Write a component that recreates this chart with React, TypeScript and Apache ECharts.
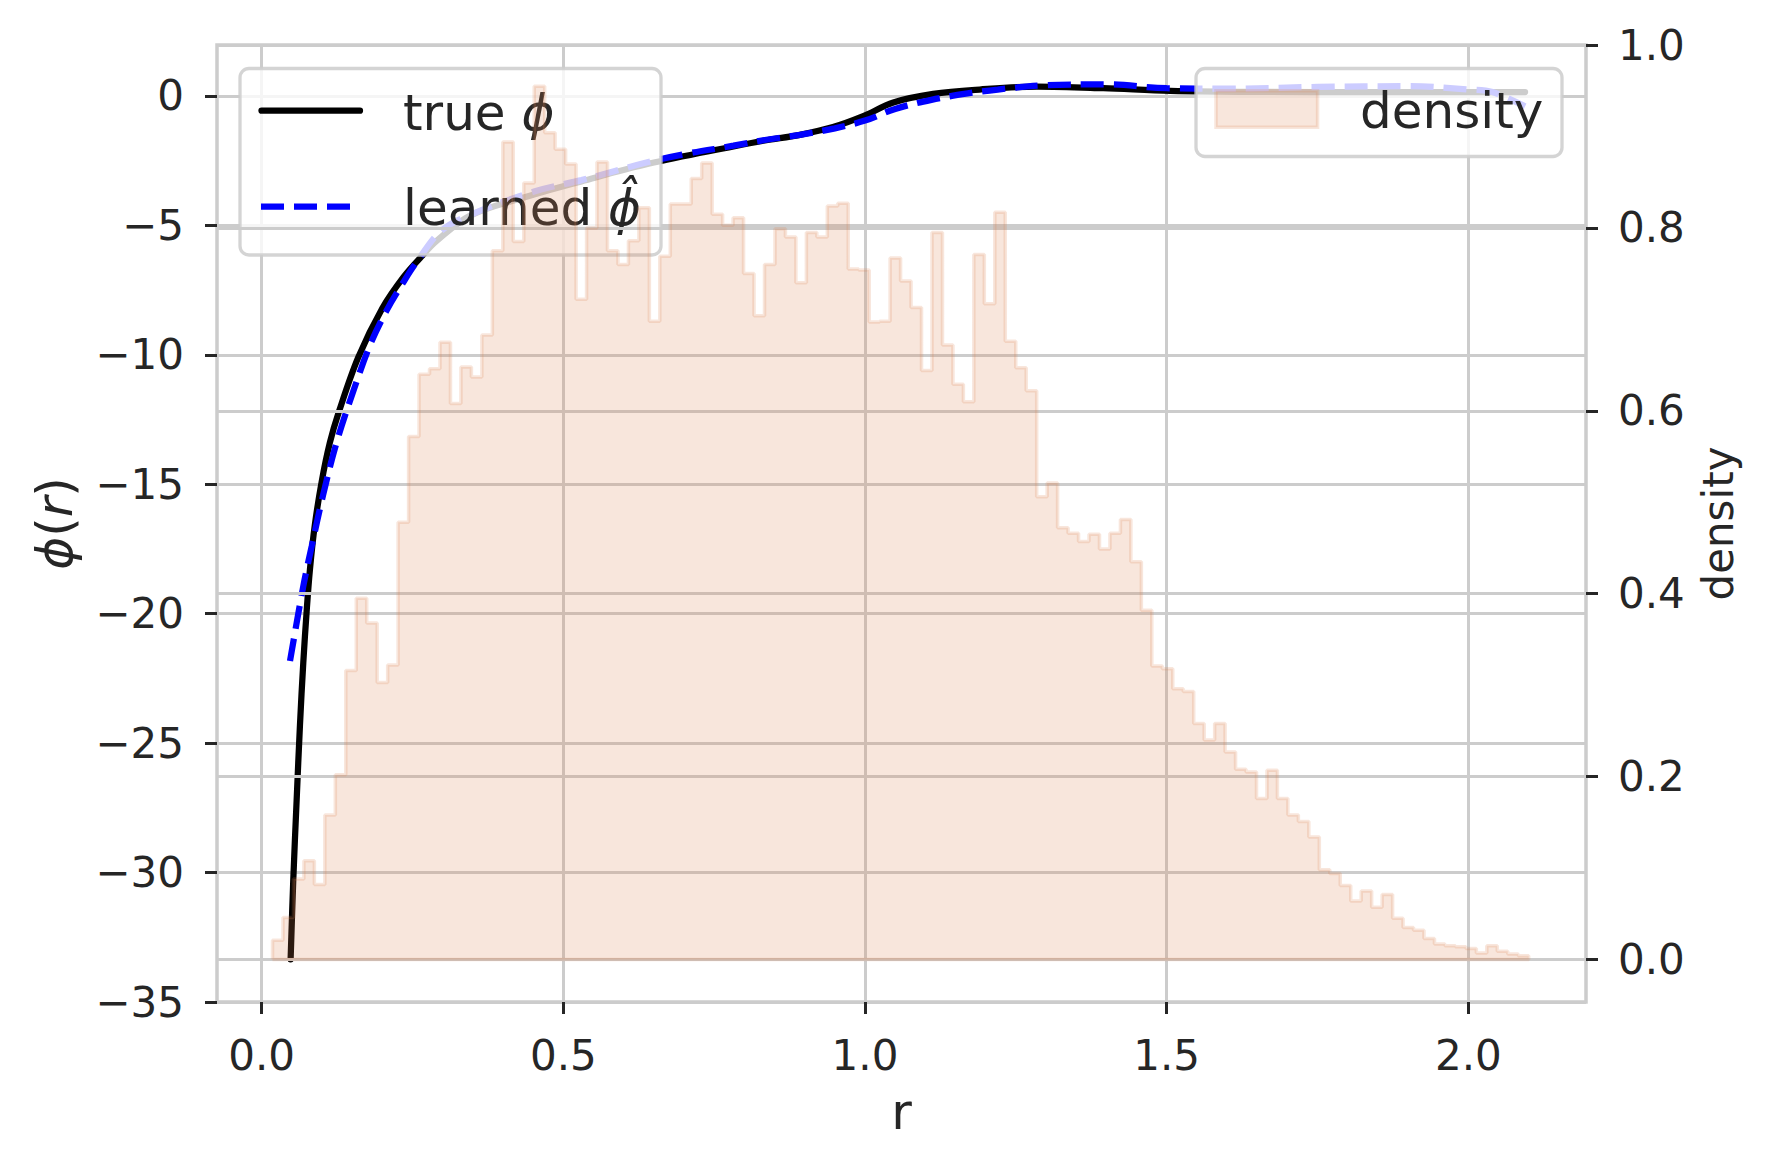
import React, { useEffect, useRef } from "react";
import * as echarts from "echarts";

// ---------- data ----------
const histStart = 0.018;
const histBinWidth = 0.01735;
const densityValues = [
  0.021, 0.046, 0.088, 0.108, 0.082, 0.158, 0.202, 0.316, 0.395, 0.368,
  0.303, 0.322, 0.478, 0.572, 0.640, 0.646, 0.675, 0.608, 0.648, 0.637,
  0.683, 0.775, 0.894, 0.785, 0.849, 0.955, 0.904, 0.886, 0.870, 0.722,
  0.800, 0.872, 0.775, 0.760, 0.786, 0.822, 0.698, 0.769, 0.826, 0.826,
  0.854, 0.871, 0.815, 0.803, 0.811, 0.750, 0.704, 0.760, 0.799, 0.790,
  0.740, 0.795, 0.790, 0.824, 0.827, 0.755, 0.754, 0.697, 0.698, 0.767,
  0.742, 0.713, 0.644, 0.795, 0.672, 0.629, 0.610, 0.771, 0.717, 0.817,
  0.676, 0.647, 0.622, 0.506, 0.521, 0.472, 0.466, 0.457, 0.465, 0.449,
  0.466, 0.481, 0.435, 0.382, 0.321, 0.318, 0.296, 0.293, 0.258, 0.240,
  0.258, 0.227, 0.208, 0.205, 0.176, 0.207, 0.176, 0.158, 0.151, 0.134,
  0.098, 0.094, 0.081, 0.064, 0.075, 0.057, 0.071, 0.045, 0.035, 0.032,
  0.023, 0.017, 0.015, 0.014, 0.012, 0.007, 0.015, 0.009, 0.006, 0.004,
];

const trueR = [
  0.048, 0.0524, 0.058, 0.0635, 0.069, 0.0746, 0.08, 0.088, 0.0995, 0.113,
  0.128, 0.16, 0.2, 0.235, 0.265, 0.29, 0.345, 0.428, 0.53, 0.641, 0.782,
  0.834, 0.892, 0.947, 0.997, 1.047, 1.113, 1.19, 1.285, 1.395, 1.506, 1.65,
  1.85, 2.094,
];
const truePhi = [
  -33.35, -30.3, -27.2, -24.3, -21.9, -19.9, -18.3, -16.6, -14.9, -13.4,
  -12.2, -10.1, -8.2, -7.0, -6.2, -5.6, -4.63, -3.97, -3.3, -2.62, -1.95,
  -1.72, -1.5, -1.2, -0.78, -0.25, 0.08, 0.25, 0.36, 0.3, 0.2, 0.16,
  0.15, 0.15,
];

const learnedR = [
  0.047, 0.069, 0.083, 0.102, 0.124, 0.152, 0.1795, 0.207, 0.235, 0.257,
  0.298, 0.35, 0.453, 0.53, 0.641, 0.7, 0.782, 0.834, 0.892, 0.95, 1.0,
  1.05, 1.11, 1.17, 1.22, 1.3, 1.4, 1.5, 1.6, 1.75, 1.9, 2.0, 2.04, 2.094,
];
const learnedPhi = [
  -21.83, -18.94, -17.39, -15.4, -13.4, -11.4, -9.63, -8.29, -7.19, -6.41,
  -5.2, -4.55, -3.68, -3.25, -2.55, -2.25, -1.92, -1.7, -1.5, -1.25, -0.95,
  -0.5, -0.15, 0.1, 0.25, 0.42, 0.45, 0.3, 0.28, 0.35, 0.38, 0.25, 0.15, -0.4,
];

const xTicks = [0, 0.5, 1.0, 1.5, 2.0];
const phiTicks = [-35, -30, -25, -20, -15, -10, -5, 0];
const densityTicks = [0, 0.2, 0.4, 0.6, 0.8, 1.0];

// ---------- styles ----------
const FONT = '"DejaVu Sans", "Noto Sans", sans-serif';
const TEXT = "#262626";
const GRID = "#cccccc";
const HIST = "rgba(221,132,82,0.2)";

function buildHistPoints(): number[][] {
  const pts: number[][] = [[histStart, 0]];
  densityValues.forEach((d, i) => pts.push([histStart + i * histBinWidth, d]));
  const end = histStart + densityValues.length * histBinWidth;
  pts.push([end, 0]);
  pts.push([histStart, 0]);
  return pts;
}

export default function App() {
  const ref = useRef<HTMLDivElement>(null);

  useEffect(() => {
    if (!ref.current) return;
    const chart = echarts.init(ref.current, undefined, { renderer: "svg" });

    const tickLabel = {
      fontSize: 42,
      color: TEXT,
      fontFamily: FONT,
    };
    const tickStyle = { color: TEXT, width: 3 };

    const option: any = {
      animation: false,
      backgroundColor: "#ffffff",
      grid: {
        left: 217,
        right: 184,
        top: 45,
        bottom: 167,
        show: true,
        borderColor: GRID,
        borderWidth: 3.5,
        backgroundColor: "transparent",
      },
      xAxis: {
        type: "value",
        position: "bottom",
        min: -0.074,
        max: 2.195,
        axisLine: { show: false, onZero: false },
        axisTick: {
          show: true,
          length: 12,
          lineStyle: tickStyle,
          customValues: xTicks,
        },
        axisLabel: {
          ...tickLabel,
          margin: 32,
          customValues: xTicks,
          formatter: (v: number) => v.toFixed(1),
        },
        splitLine: { show: true, lineStyle: { color: GRID, width: 3 } },
        name: "r",
        nameLocation: "middle",
        nameGap: 85,
        nameTextStyle: { fontSize: 50, color: TEXT, fontFamily: FONT },
      },
      yAxis: [
        {
          type: "value",
          position: "left",
          min: -35,
          max: 1.97,
          axisLine: { show: false, onZero: false },
          axisTick: {
            show: true,
            length: 12,
            lineStyle: tickStyle,
            customValues: phiTicks,
          },
          axisLabel: {
            ...tickLabel,
            margin: 33,
            customValues: phiTicks,
            formatter: (v: number) =>
              v < 0 ? "\u2212" + String(Math.abs(v)) : String(v),
          },
          splitLine: { show: true, lineStyle: { color: GRID, width: 3 } },
          name: "{i|\u03d5}({i|r})",
          nameLocation: "middle",
          nameGap: 137,
          nameTextStyle: {
            fontSize: 50,
            color: TEXT,
            fontFamily: FONT,
            rich: {
              i: { fontStyle: "italic", fontSize: 50, color: TEXT, fontFamily: FONT },
            },
          },
        },
        {
          type: "value",
          position: "right",
          min: -0.0465,
          max: 1.0,
          z: 3.5,
          axisLine: { show: false, onZero: false },
          axisTick: {
            show: true,
            length: 12,
            lineStyle: tickStyle,
            customValues: densityTicks,
          },
          axisLabel: {
            ...tickLabel,
            margin: 32,
            customValues: densityTicks,
            formatter: (v: number) => v.toFixed(1),
          },
          splitLine: { show: true, lineStyle: { color: GRID, width: 3 } },
          name: "density",
          nameLocation: "middle",
          nameGap: 111,
          nameTextStyle: { fontSize: 42, color: TEXT, fontFamily: FONT },
        },
      ],
      series: [
        {
          name: "true \u03d5",
          type: "line",
          xAxisIndex: 0,
          yAxisIndex: 0,
          data: trueR.map((r, i) => [r, truePhi[i]]),
          showSymbol: false,
          symbol: "none",
          smooth: 0.35,
          silent: true,
          z: 2,
          lineStyle: { color: "#000000", width: 6.25, cap: "round", join: "round" },
        },
        {
          name: "learned \u03d5\u0302",
          type: "line",
          xAxisIndex: 0,
          yAxisIndex: 0,
          data: learnedR.map((r, i) => [r, learnedPhi[i]]),
          showSymbol: false,
          symbol: "none",
          smooth: 0.35,
          silent: true,
          z: 2,
          lineStyle: { color: "#0000ff", width: 6.25, type: [23, 10] },
        },
        {
          name: "density",
          type: "line",
          xAxisIndex: 0,
          yAxisIndex: 1,
          data: buildHistPoints(),
          step: "end",
          showSymbol: false,
          symbol: "none",
          silent: true,
          z: 4,
          lineStyle: { color: HIST, width: 3.5 },
          areaStyle: { color: HIST, opacity: 1 },
        },
      ],
      graphic: {
        elements: [
          // left legend
          {
            type: "rect",
            shape: { x: 240, y: 68.5, width: 421, height: 186.5, r: 9 },
            style: { fill: "rgba(255,255,255,0.8)", stroke: "rgba(204,204,204,0.85)", lineWidth: 3.3 },
            z: 3,
            z2: 0,
            silent: true,
          },
          {
            type: "line",
            shape: { x1: 261.5, y1: 110.7, x2: 360, y2: 110.7 },
            style: { stroke: "#000000", lineWidth: 6.25, lineCap: "round" },
            z: 3,
            z2: 1,
            silent: true,
          },
          {
            type: "line",
            shape: { x1: 261, y1: 206.7, x2: 360, y2: 206.7 },
            style: { stroke: "#0000ff", lineWidth: 6.25, lineDash: [23, 10] },
            z: 3,
            z2: 1,
            silent: true,
          },
          {
            type: "text",
            x: 403,
            y: 113,
            style: {
              text: "true {i|\u03d5}",
              fontSize: 50,
              fontFamily: FONT,
              fill: TEXT,
              align: "left",
              verticalAlign: "middle",
              rich: { i: { fontStyle: "italic", fontSize: 50, fontFamily: FONT, fill: TEXT } },
            },
            z: 3,
            z2: 1,
            silent: true,
          },
          {
            type: "text",
            x: 403,
            y: 207.5,
            style: {
              text: "learned {i|\u03d5\u0302}",
              fontSize: 50,
              fontFamily: FONT,
              fill: TEXT,
              align: "left",
              verticalAlign: "middle",
              rich: { i: { fontStyle: "italic", fontSize: 50, fontFamily: FONT, fill: TEXT } },
            },
            z: 3,
            z2: 1,
            silent: true,
          },
          // right legend
          {
            type: "rect",
            shape: { x: 1196, y: 68.5, width: 366, height: 88, r: 9 },
            style: { fill: "rgba(255,255,255,0.8)", stroke: "rgba(204,204,204,0.85)", lineWidth: 3.3 },
            z: 6,
            z2: 0,
            silent: true,
          },
          {
            type: "rect",
            shape: { x: 1216, y: 90.7, width: 101.6, height: 36.6 },
            style: { fill: HIST, stroke: HIST, lineWidth: 3.5 },
            z: 6,
            z2: 1,
            silent: true,
          },
          {
            type: "text",
            x: 1360,
            y: 111,
            style: {
              text: "density",
              fontSize: 50,
              fontFamily: FONT,
              fill: TEXT,
              align: "left",
              verticalAlign: "middle",
            },
            z: 6,
            z2: 1,
            silent: true,
          },
        ],
      },
    };

    chart.setOption(option);
    return () => {
      chart.dispose();
    };
  }, []);

  return (
    <div
      ref={ref}
      style={{ position: "absolute", left: 0, top: 0, width: 1770, height: 1169 }}
    />
  );
}
